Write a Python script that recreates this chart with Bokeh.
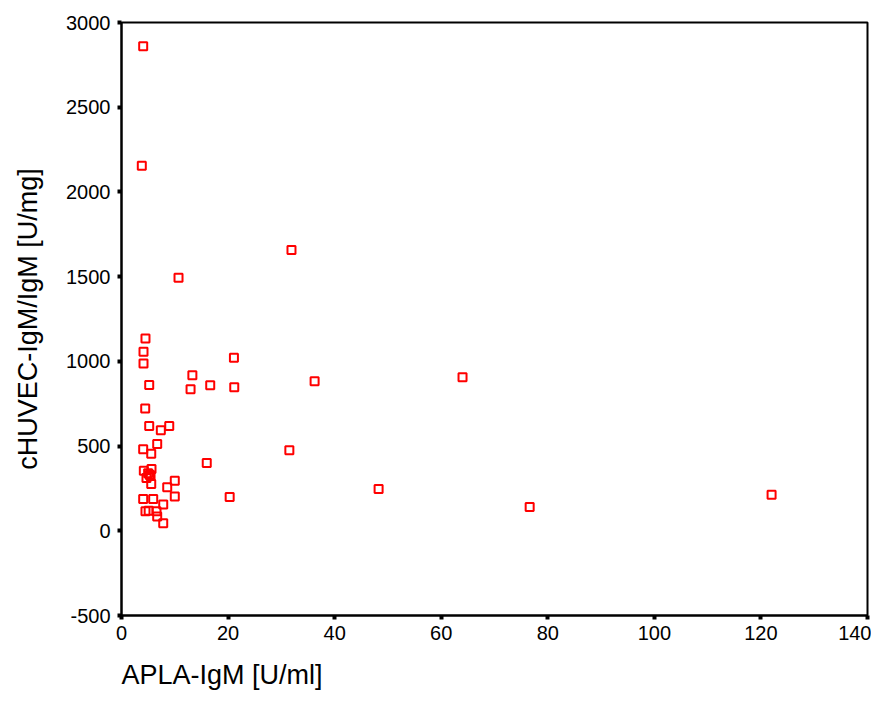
from bokeh.plotting import figure
from bokeh.embed import file_html
from bokeh.resources import INLINE
from bokeh.models import Range1d, FixedTicker, Title

# Data
apla_igm = [4.07, 3.81, 10.7, 31.9, 21.1, 13.3, 16.65, 12.96, 21.16, 36.24, 64.0, 48.25,
            76.6, 122.0, 31.5, 20.3, 16.0,
            4.5, 4.13, 4.13, 5.2, 4.45, 5.2, 7.38, 8.96, 6.7, 4.07, 5.58,
            4.19, 5.63, 4.69, 5.45, 5.58, 8.58, 10.0, 10.0, 4.07, 5.95, 7.83,
            4.5, 5.1, 6.57, 6.7, 7.83, 5.0, 5.3]
chuvec_igm = [2860, 2155, 1494, 1657, 1022, 918, 859, 835, 847, 882, 906, 247,
              141, 212, 476, 200, 400,
              1135, 1057, 988, 860, 722, 618, 594, 618, 512, 481, 455,
              355, 365, 312, 325, 276, 257, 296, 202, 188, 188, 155,
              116, 118, 116, 84, 45, 340, 330]

x_ticks = [0, 20, 40, 60, 80, 100, 120, 140]
y_ticks = [-500, 0, 500, 1000, 1500, 2000, 2500, 3000]
x_label = "APLA-IgM [U/ml]"
y_label = "cHUVEC-IgM/IgM [U/mg]"

FONT = "Liberation Sans"

p = figure(width=871, height=704, output_backend="svg", toolbar_location=None,
           x_range=Range1d(0, 140), y_range=Range1d(-500, 3000),
           min_border_left=121, min_border_right=4, min_border_top=22, min_border_bottom=60)

p.scatter(apla_igm, chuvec_igm, marker="square", size=8, fill_color=None,
          line_color="#ff0000", line_width=2)

p.xgrid.visible = False
p.ygrid.visible = False
p.outline_line_color = "black"
p.outline_line_width = 2
p.outline_line_alpha = 1

for ax in (p.xaxis[0], p.yaxis[0]):
    ax.axis_line_width = 2
    ax.axis_line_color = "black"
    ax.major_tick_line_width = 4
    ax.major_tick_line_color = "black"
    ax.major_tick_out = 4
    ax.major_tick_in = 0
    ax.minor_tick_line_color = None
    ax.major_label_text_font = FONT
    ax.major_label_text_font_size = "20px"
    ax.major_label_text_color = "black"
    ax.axis_label_text_font = FONT
    ax.axis_label_text_font_size = "27px"
    ax.axis_label_text_font_style = "normal"
    ax.axis_label_text_color = "black"

p.xaxis.ticker = FixedTicker(ticks=x_ticks)
p.yaxis.ticker = FixedTicker(ticks=y_ticks)
p.yaxis.major_label_overrides = {t: str(t) for t in y_ticks}
p.xaxis.major_label_standoff = 6
p.yaxis.major_label_standoff = 7

p.yaxis.axis_label = y_label
p.yaxis.axis_label_standoff = 20

xt = Title(text=x_label, align="left", text_font=FONT, text_font_size="27px",
           text_font_style="normal", text_color="black", standoff=30)
p.add_layout(xt, "below")

open("out.html", "w").write(file_html(p, INLINE))
